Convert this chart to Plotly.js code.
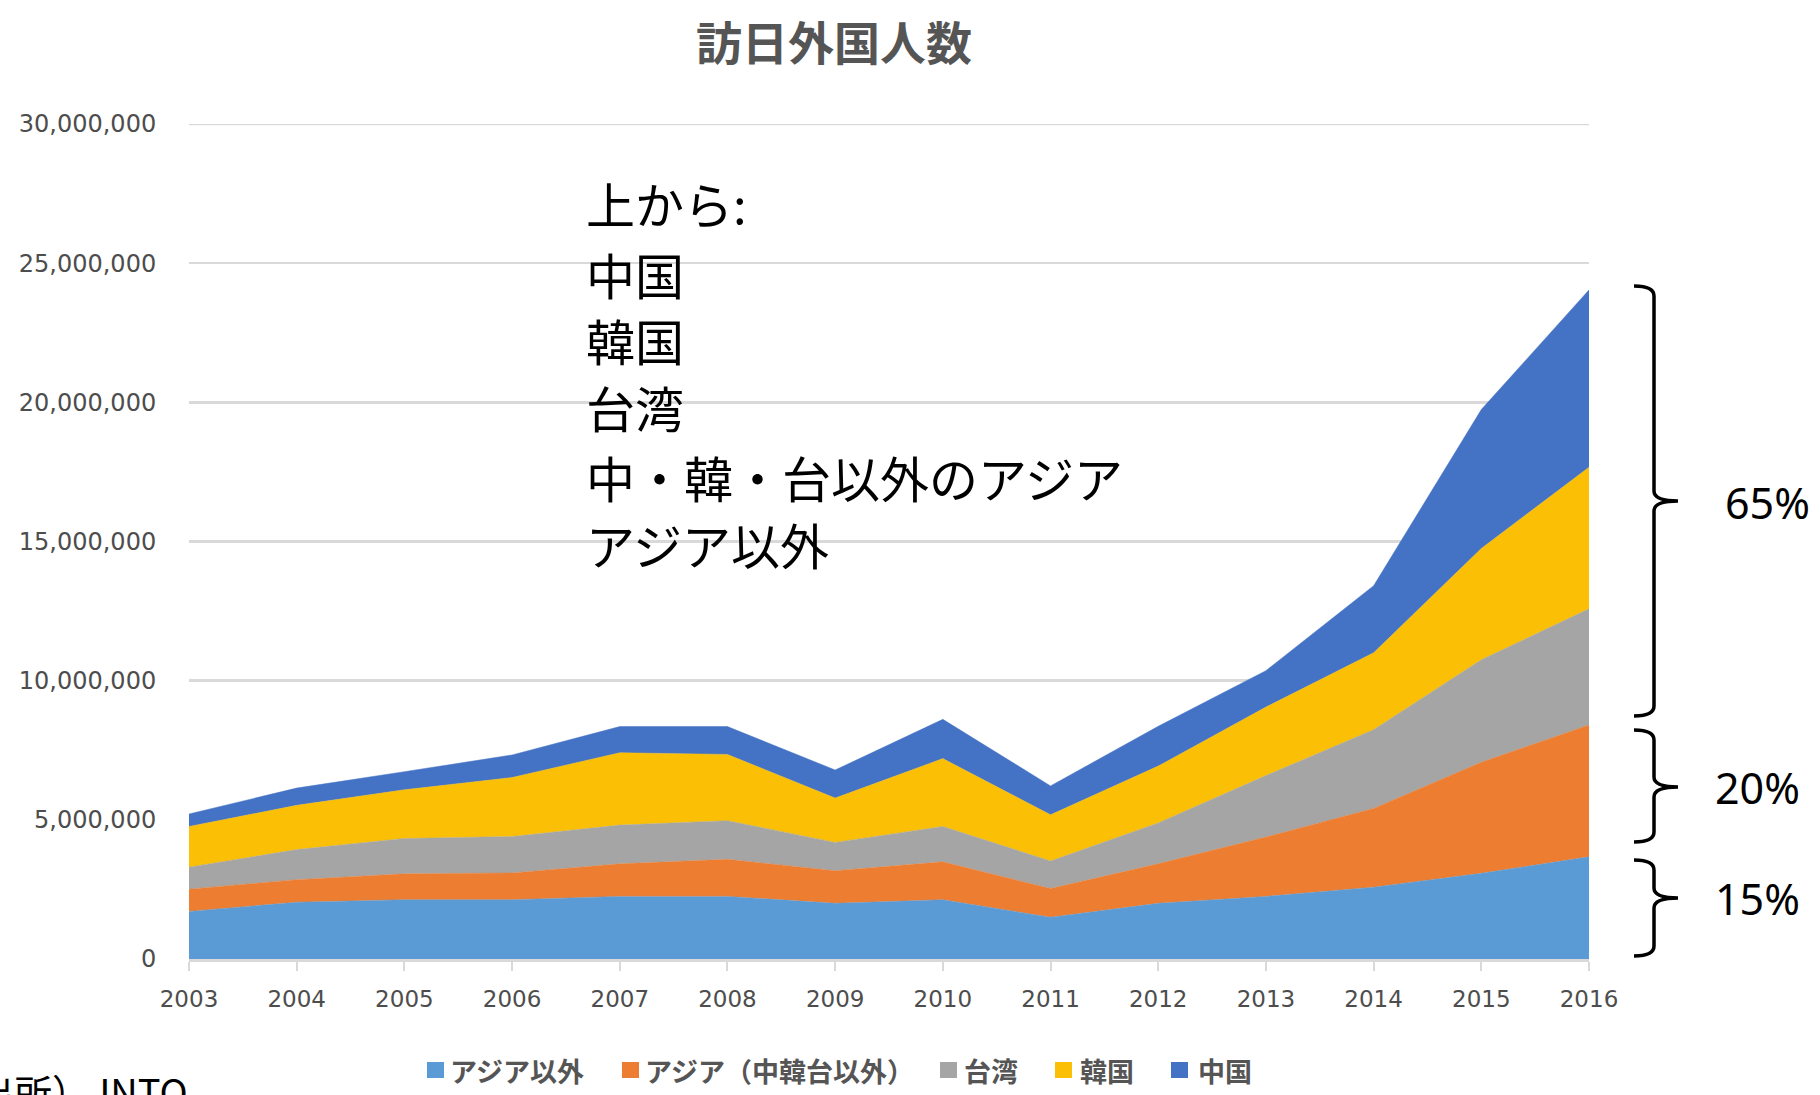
<!DOCTYPE html>
<html>
<head>
<meta charset="utf-8">
<script src="https://cdn.plot.ly/plotly-3.0.1.min.js"></script>
<style>
html,body{margin:0;padding:0;background:#fff;}
#chart{width:1820px;height:1095px;}
</style>
</head>
<body>
<div id="chart"></div>
<script>
// ---- data ----
const years = [2003, 2004, 2005, 2006, 2007, 2008, 2009, 2010, 2011, 2012, 2013, 2014, 2015, 2016];
const nonAsia   = [1710000, 2040000, 2130000, 2130000, 2250000, 2250000, 2000000, 2130000, 1500000, 2000000, 2250000, 2580000, 3080000, 3670000];
const otherAsia = [800000, 810000, 930000, 960000, 1170000, 1330000, 1170000, 1360000, 1030000, 1420000, 2130000, 2830000, 3990000, 4740000];
const taiwan    = [790000, 1080000, 1270000, 1310000, 1390000, 1390000, 1020000, 1270000, 990000, 1470000, 2210000, 2830000, 3680000, 4170000];
const korea     = [1460000, 1590000, 1750000, 2120000, 2600000, 2380000, 1590000, 2440000, 1660000, 2040000, 2460000, 2760000, 4000000, 5090000];
const china     = [450000, 620000, 650000, 810000, 940000, 1000000, 1010000, 1410000, 1040000, 1430000, 1310000, 2410000, 4990000, 6370000];
const seriesNames = ['アジア以外', 'アジア（中韓台以外）', '台湾', '韓国', '中国'];
const yTicks = [0, 5000000, 10000000, 15000000, 20000000, 25000000, 30000000];
const chartTitle = '訪日外国人数';
const noteLines = ['上から:', '中国', '韓国', '台湾', '中・韓・台以外のアジア', 'アジア以外'];
const shareLabels = ['65%', '20%', '15%'];
const sourceText = '（出所）JNTO';

// ---- styling ----
const colors = ['#5B9BD5', '#ED7D31', '#A5A5A5', '#FBBF05', '#4472C4'];
const seriesData = [nonAsia, otherAsia, taiwan, korea, china];
const L = 189, R = 1589, T = 124, B = 959, W = 1820, H = 1095;
const px = x => (x - L) / (R - L);
const py = y => (B - y) / (B - T);
const grey = '#555555';
const cjk = '"Noto Sans CJK JP", "Noto Sans", sans-serif';

const traces = seriesData.map((d, i) => ({
  x: years, y: d, name: seriesNames[i], type: 'scatter', mode: 'lines',
  stackgroup: 'one', line: {width: 0.5, color: colors[i]}, fillcolor: colors[i],
  showlegend: false, hoverinfo: 'x+y+name'
}));

const annotations = [];
const shapes = [];

// top gridline (at range edge)
shapes.push({type: 'line', xref: 'paper', yref: 'y', x0: 0, x1: 1, y0: yTicks[yTicks.length - 1], y1: yTicks[yTicks.length - 1],
  line: {color: '#d9d9d9', width: 2.5}, layer: 'below'});

// note text block
const noteY = [203, 273, 339, 406, 476, 543];
noteLines.forEach((t, i) => annotations.push({
  xref: 'paper', yref: 'paper', x: px(584), y: py(noteY[i]), xanchor: 'left', yanchor: 'middle',
  text: t, showarrow: false, font: {family: cjk, size: 49, color: '#000'}
}));

// custom legend
const legSq = [427, 622, 940, 1055, 1171];
const legTx = [448, 643, 962, 1078, 1196];
const legY = 1070;
seriesNames.forEach((n, i) => {
  shapes.push({type: 'rect', xref: 'paper', yref: 'paper', x0: px(legSq[i]), x1: px(legSq[i] + 17),
    y0: py(legY + 8), y1: py(legY - 8), fillcolor: colors[i], line: {width: 0}});
  annotations.push({xref: 'paper', yref: 'paper', x: px(legTx[i]), y: py(legY), xanchor: 'left', yanchor: 'middle',
    text: n, showarrow: false, font: {family: cjk, size: 27, color: grey, weight: 'bold'}});
});

// braces
function brace(yTop, yBot, yMid) {
  const x0 = px(1634), x1 = px(1654), x2 = px(1678);
  const r = 10;
  const p = (x, y) => x + ',' + y;
  const path = 'M ' + p(x0, py(yTop)) +
    ' Q ' + p(x1, py(yTop)) + ' ' + p(x1, py(yTop + r)) +
    ' L ' + p(x1, py(yMid - r)) +
    ' Q ' + p(x1, py(yMid)) + ' ' + p(x2, py(yMid)) +
    ' Q ' + p(x1, py(yMid)) + ' ' + p(x1, py(yMid + r)) +
    ' L ' + p(x1, py(yBot - r)) +
    ' Q ' + p(x1, py(yBot)) + ' ' + p(x0, py(yBot));
  shapes.push({type: 'path', xref: 'paper', yref: 'paper', path: path, line: {color: '#000', width: 3.5}});
}
brace(286, 716, 501);
brace(730, 842, 787);
brace(860, 956, 898);
const shareX = [1723, 1713, 1713];
const shareY = [502, 787, 898];
shareLabels.forEach((t, i) => annotations.push({
  xref: 'paper', yref: 'paper', x: px(shareX[i]), y: py(shareY[i]), xanchor: 'left', yanchor: 'middle',
  text: t, showarrow: false, font: {family: '"Noto Sans", sans-serif', size: 43, color: '#000'}
}));

// source (partially cut off at the page edge in the reference)
annotations.push({xref: 'paper', yref: 'paper', x: px(190), y: py(1090), xanchor: 'right', yanchor: 'middle',
  text: sourceText, showarrow: false, font: {family: cjk, size: 38, color: '#000'}});

const layout = {
  width: W, height: H,
  margin: {l: L, r: W - R, t: T, b: H - B, pad: 0},
  paper_bgcolor: '#fff', plot_bgcolor: '#fff',
  title: {text: chartTitle, xref: 'container', yref: 'container', x: 834 / W, y: 1 - 44 / H,
    xanchor: 'center', yanchor: 'middle', font: {family: cjk, size: 46, color: grey, weight: 'bold'}},
  xaxis: {range: [2003, 2016], tickvals: years, ticktext: years.map(String), showgrid: false,
    zeroline: false, showline: true, linecolor: '#d9d9d9', linewidth: 2.5,
    ticks: 'outside', ticklen: 9, tickwidth: 2, tickcolor: '#d9d9d9', ticklabelstandoff: 9,
    tickfont: {family: '"DejaVu Sans", sans-serif', size: 23, color: '#4d4d4d'}},
  yaxis: {range: [0, 30000000], tickvals: yTicks, tickformat: ',d', showgrid: true,
    gridcolor: '#d9d9d9', gridwidth: 2.5, zeroline: false, showline: false,
    ticks: 'outside', ticklen: 27, tickcolor: 'rgba(0,0,0,0)',
    tickfont: {family: '"DejaVu Sans", sans-serif', size: 24, color: '#4d4d4d'}},
  showlegend: false,
  annotations: annotations,
  shapes: shapes
};

Plotly.newPlot('chart', traces, layout, {displayModeBar: false, staticPlot: true});
</script>
</body>
</html>
